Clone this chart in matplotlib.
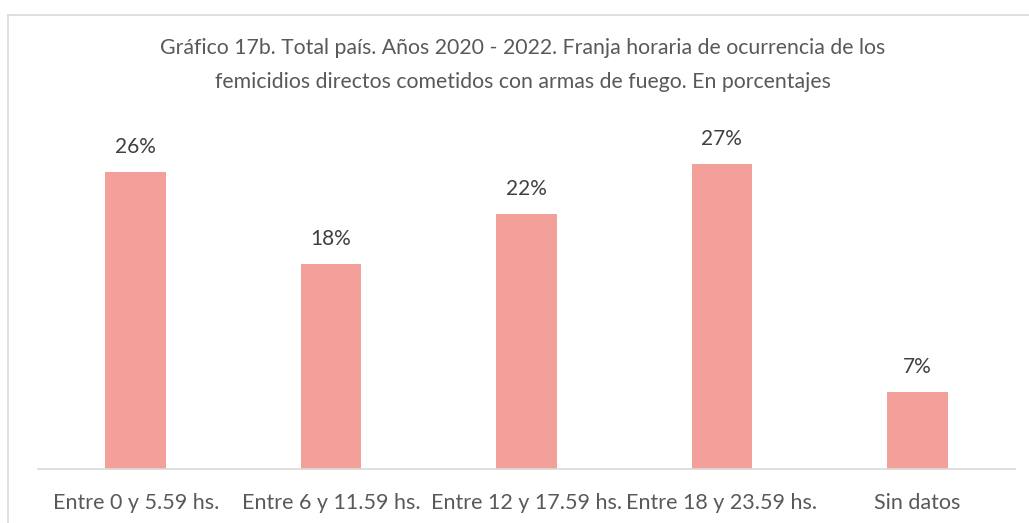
import numpy as np
import matplotlib.pyplot as plt
from matplotlib.lines import Line2D

categorias = ["Entre 0 y 5.59 hs.", "Entre 6 y 11.59 hs.", "Entre 12 y 17.59 hs.",
              "Entre 18 y 23.59 hs.", "Sin datos"]
valores = [26.1, 18.0, 22.4, 26.8, 6.8]
etiquetas = ["26%", "18%", "22%", "27%", "7%"]

titulo = ["Gráfico 17b. Total país. Años 2020 - 2022. Franja horaria de ocurrencia de los",
          "femicidios directos cometidos con armas de fuego. En porcentajes"]

plt.rcParams['font.family'] = ['Lato', 'DejaVu Sans']
gris = '#595959'

fig = plt.figure(figsize=(10.29, 5.23), dpi=100)
ax = fig.add_axes([38/1029, 1 - 469/523, 977/1029, 359/523])

x = np.arange(len(categorias))
ax.bar(x, valores, width=0.31, color='#F4A09A')
for xi, v, t in zip(x, valores, etiquetas):
    ax.text(xi, v + 1.3, t, ha='center', va='bottom', fontsize=15, color='#404040')

ax.set_xlim(-0.5, len(categorias) - 0.5)
ax.set_ylim(0, 31.5)
ax.set_xticks(x)
ax.set_xticklabels(categorias, fontsize=15.5, color=gris)
ax.tick_params(axis='x', length=0, pad=17)
ax.set_yticks([])
for s in ['top', 'right', 'left']:
    ax.spines[s].set_visible(False)
ax.spines['bottom'].set_color('#D9D9D9')
ax.spines['bottom'].set_linewidth(1.2)

fig.text(523/1029, 1 - 48/523, titulo[0], ha='center', va='center', fontsize=15.3, color=gris)
fig.text(523/1029, 1 - 82/523, titulo[1], ha='center', va='center', fontsize=15.3, color=gris)

# marco
fig.add_artist(Line2D([8/1029, 8/1029], [0, 1 - 15/523], color='#D9D9D9', lw=1.2))
fig.add_artist(Line2D([8/1029, 1], [1 - 15/523, 1 - 15/523], color='#D9D9D9', lw=1.2))

fig.savefig('out.png', dpi=100)
